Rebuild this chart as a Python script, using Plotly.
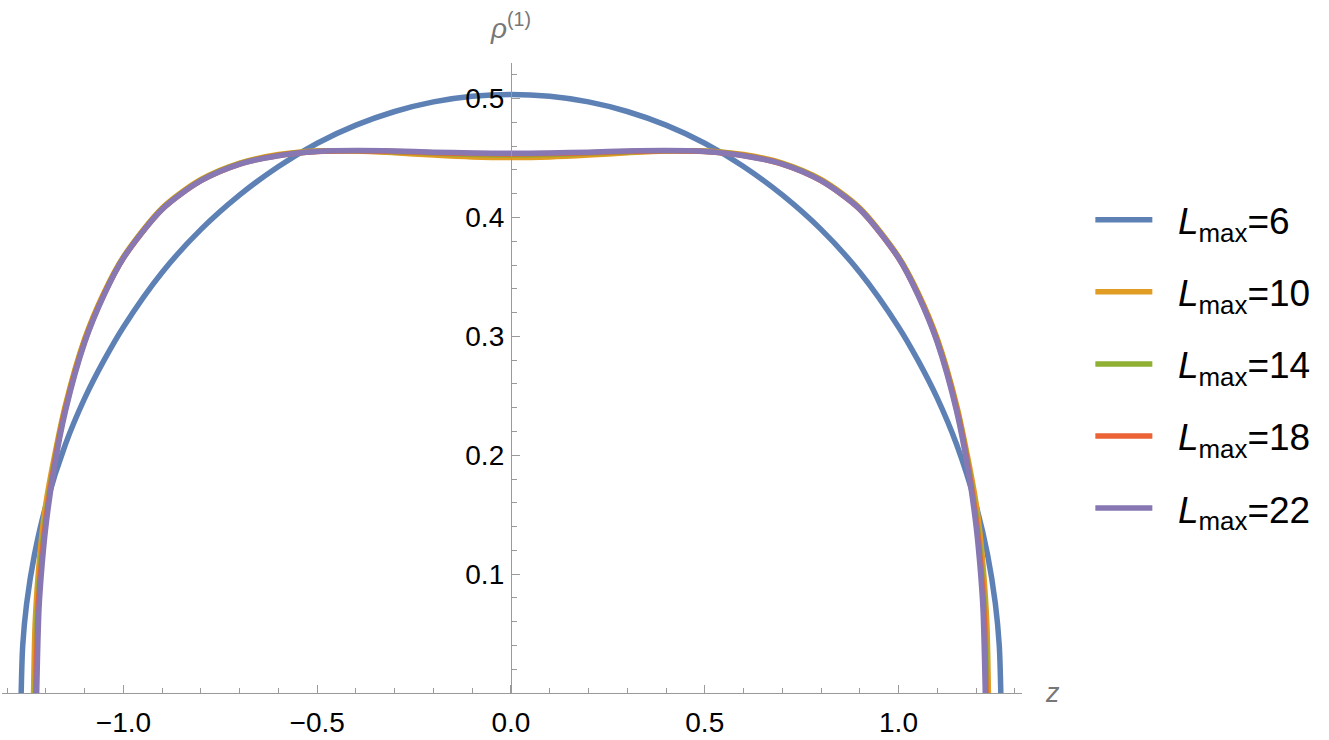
import plotly.graph_objects as go

# ---- data ----
z_L6 = [-1.264, -1.26, -1.25, -1.23, -1.2, -1.15, -1.1, -1.05, -1.0, -0.9, -0.8, -0.7, -0.6, -0.5, -0.4, -0.3, -0.2, -0.1, 0.0,
        0.1, 0.2, 0.3, 0.4, 0.5, 0.6, 0.7, 0.8, 0.9, 1.0, 1.05, 1.1, 1.15, 1.2, 1.23, 1.25, 1.26, 1.264]
rho_L6 = [0.0, 0.040, 0.075, 0.116, 0.158, 0.209, 0.248, 0.280, 0.308, 0.354, 0.390, 0.419, 0.443, 0.4625, 0.4777, 0.4892, 0.4973, 0.5020, 0.5036,
          0.5020, 0.4973, 0.4892, 0.4777, 0.4625, 0.443, 0.419, 0.390, 0.354, 0.308, 0.280, 0.248, 0.209, 0.158, 0.116, 0.075, 0.040, 0.0]

z_L10 = [-1.232, -1.228, -1.22, -1.21, -1.2, -1.18, -1.15, -1.1, -1.05, -1.0, -0.9, -0.8, -0.7, -0.6, -0.5, -0.4, -0.3, -0.2, -0.1, 0.0,
         0.1, 0.2, 0.3, 0.4, 0.5, 0.6, 0.7, 0.8, 0.9, 1.0, 1.05, 1.1, 1.15, 1.18, 1.2, 1.21, 1.22, 1.228, 1.232]
rho_L10 = [0.0, 0.058, 0.100, 0.135, 0.160, 0.196, 0.242, 0.298, 0.337, 0.367, 0.408, 0.432, 0.4458, 0.453, 0.456, 0.456, 0.4545, 0.4525, 0.4510, 0.4505,
           0.4510, 0.4525, 0.4545, 0.456, 0.456, 0.453, 0.4458, 0.432, 0.408, 0.367, 0.337, 0.298, 0.242, 0.196, 0.160, 0.135, 0.100, 0.058, 0.0]

z_L14 = [-1.228, -1.222, -1.214, -1.2, -1.18, -1.15, -1.1, -1.05, -1.0, -0.9, -0.8, -0.7, -0.6, -0.5, -0.4, -0.3, -0.2, -0.1, 0.0,
         0.1, 0.2, 0.3, 0.4, 0.5, 0.6, 0.7, 0.8, 0.9, 1.0, 1.05, 1.1, 1.15, 1.18, 1.2, 1.214, 1.222, 1.228]
rho_L14 = [0.0, 0.070, 0.108, 0.150, 0.192, 0.240, 0.297, 0.336, 0.3665, 0.4075, 0.4315, 0.4454, 0.4525, 0.4557, 0.4562, 0.4552, 0.4540, 0.4530, 0.4525,
           0.4530, 0.4540, 0.4552, 0.4562, 0.4557, 0.4525, 0.4454, 0.4315, 0.4075, 0.3665, 0.336, 0.297, 0.240, 0.192, 0.150, 0.108, 0.070, 0.0]

z_L18 = [-1.226, -1.22, -1.212, -1.2, -1.18, -1.15, -1.1, -1.05, -1.0, -0.9, -0.8, -0.7, -0.6, -0.5, -0.4, -0.3, -0.2, -0.1, 0.0,
         0.1, 0.2, 0.3, 0.4, 0.5, 0.6, 0.7, 0.8, 0.9, 1.0, 1.05, 1.1, 1.15, 1.18, 1.2, 1.212, 1.22, 1.226]
rho_L18 = [0.0, 0.071, 0.108, 0.146, 0.190, 0.239, 0.296, 0.3355, 0.366, 0.407, 0.431, 0.445, 0.4522, 0.4556, 0.4562, 0.4556, 0.4546, 0.4538, 0.4535,
           0.4538, 0.4546, 0.4556, 0.4562, 0.4556, 0.4522, 0.445, 0.431, 0.407, 0.366, 0.3355, 0.296, 0.239, 0.190, 0.146, 0.108, 0.071, 0.0]

z_L22 = [-1.224, -1.218, -1.21, -1.2, -1.18, -1.15, -1.1, -1.05, -1.0, -0.9, -0.8, -0.7, -0.6, -0.5, -0.4, -0.3, -0.2, -0.1, 0.0,
         0.1, 0.2, 0.3, 0.4, 0.5, 0.6, 0.7, 0.8, 0.9, 1.0, 1.05, 1.1, 1.15, 1.18, 1.2, 1.21, 1.218, 1.224]
rho_L22 = [0.0, 0.071, 0.108, 0.141, 0.187, 0.237, 0.295, 0.335, 0.366, 0.407, 0.431, 0.445, 0.452, 0.4555, 0.4563, 0.4559, 0.4550, 0.4543, 0.4540,
           0.4543, 0.4550, 0.4559, 0.4563, 0.4555, 0.452, 0.445, 0.431, 0.407, 0.366, 0.335, 0.295, 0.237, 0.187, 0.141, 0.108, 0.071, 0.0]

series_names = ["6", "10", "14", "18", "22"]
series_z = [z_L6, z_L10, z_L14, z_L18, z_L22]
series_rho = [rho_L6, rho_L10, rho_L14, rho_L18, rho_L22]
colors = ["#5E81B5", "#E19C24", "#8FB032", "#EB6235", "#8778B3"]

x_ticks = [-1.0, -0.5, 0.0, 0.5, 1.0]
y_ticks = [0.1, 0.2, 0.3, 0.4, 0.5]

x_range = [-1.3135, 1.3187]
y_range = [0.0, 0.53]

FONT = "Liberation Sans, Arial, sans-serif"
AXIS_GRAY = "#9a9a9a"

fig = go.Figure()
for i, (name, zz, rr, c) in enumerate(zip(series_names, series_z, series_rho, colors)):
    fig.add_trace(go.Scatter(
        x=zz, y=rr, mode="lines",
        name="&nbsp;&nbsp;<i>L</i><sub>max</sub>=" + name,
        legendgroup="g" + str(i),
        line=dict(color=c, width=5.5, shape="spline", smoothing=0.8),
    ))

x0_frac = (0 - x_range[0]) / (x_range[1] - x_range[0])

fig.update_layout(
    width=1329, height=740,
    margin=dict(l=2, r=307, t=63, b=47, autoexpand=False),
    paper_bgcolor="white", plot_bgcolor="white",
    font=dict(family=FONT, color="black"),
    showlegend=True,
    legend=dict(
        x=1.067, xanchor="left", y=0.522, yanchor="middle",
        font=dict(size=37, family=FONT, color="black"),
        tracegroupgap=21, itemwidth=57,
        bgcolor="rgba(0,0,0,0)",
    ),
    xaxis=dict(
        range=x_range, showgrid=False, zeroline=False, automargin=False,
        showline=True, linecolor=AXIS_GRAY, linewidth=1.3,
        tickmode="array", tickvals=x_ticks, tickformat=".1f",
        ticks="inside", ticklen=8, tickcolor=AXIS_GRAY, tickwidth=1.3,
        tickfont=dict(size=28, family=FONT, color="black"),
        ticklabelstandoff=4,
        minor=dict(tickmode="linear", tick0=0, dtick=0.1, ticks="inside", ticklen=5, tickcolor=AXIS_GRAY, tickwidth=1),
        anchor="y",
    ),
    yaxis=dict(
        range=y_range, showgrid=False, zeroline=False, automargin=False,
        anchor="free", position=x0_frac, side="left",
        showline=True, linecolor=AXIS_GRAY, linewidth=1.3,
        tickmode="array", tickvals=y_ticks, tickformat=".1f",
        ticks="inside", ticklen=8, tickcolor=AXIS_GRAY, tickwidth=1.3,
        tickfont=dict(size=28, family=FONT, color="black"),
        ticklabelstandoff=1,
        minor=dict(tickmode="linear", tick0=0, dtick=0.02, ticks="inside", ticklen=5, tickcolor=AXIS_GRAY, tickwidth=1),
    ),
    annotations=[
        dict(text="<i>ρ</i><sup>(1)</sup>", xref="x", yref="paper", x=0.0, y=1.058,
             xanchor="center", yanchor="middle", showarrow=False,
             font=dict(size=28, family=FONT, color="#777777")),
        dict(text="<i>z</i>", xref="paper", yref="paper", x=1.021, y=0.0,
             xanchor="left", yanchor="middle", showarrow=False,
             font=dict(size=27, family=FONT, color="#777777")),
    ],
)

fig.write_html("out.html", config={"displayModeBar": False},
               post_script="document.body.style.margin='0';document.body.style.padding='0';")
